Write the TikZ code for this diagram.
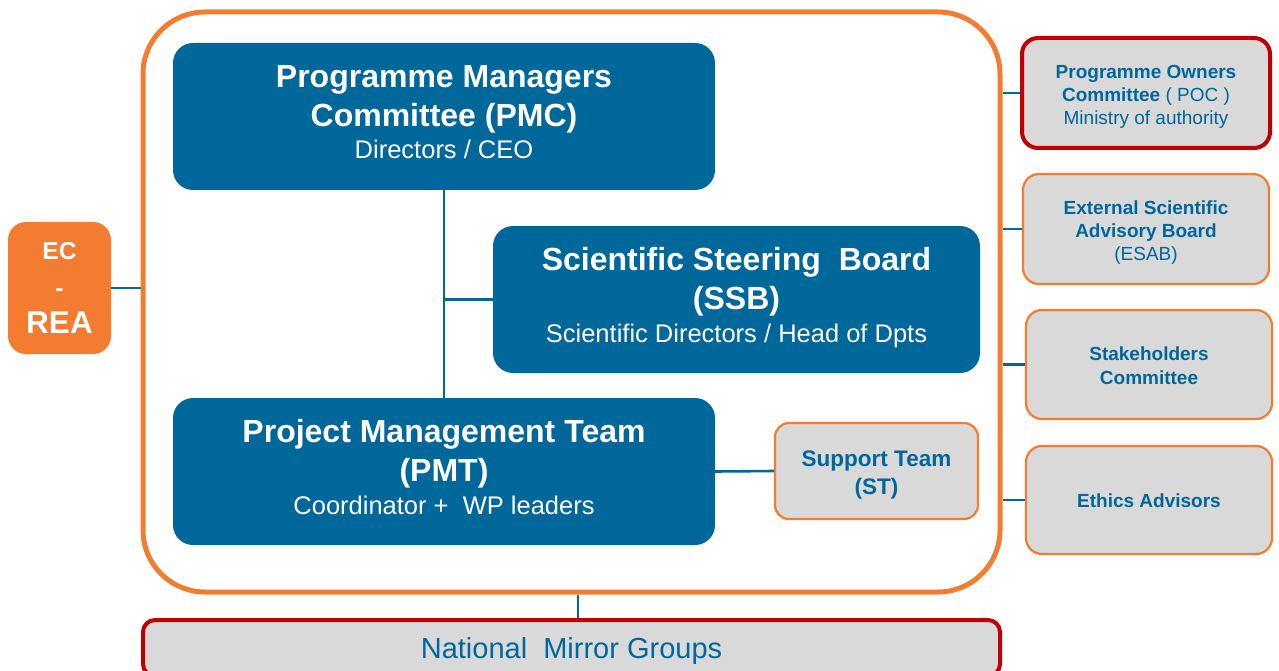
\documentclass[tikz,border=0pt]{standalone}
\usepackage{fontspec}
\setmainfont{Liberation Sans}
\definecolor{dblue}{RGB}{0,103,154}
\definecolor{orng}{RGB}{244,124,48}
\definecolor{lgray}{RGB}{217,217,217}
\definecolor{dred}{RGB}{192,0,0}
\newcommand{\subf}{\fontsize{25.5}{39}\selectfont\mdseries}
\newcommand{\lift}[1]{\rule{0pt}{#1pt}}
\begin{document}
\begin{tikzpicture}[x=1pt,y=-1pt,
  bluebox/.style={rectangle,rounded corners=20,fill=dblue,text=white,align=center,inner sep=0pt,
    font=\fontsize{32}{39}\selectfont\bfseries,text height=85pt,text depth=0pt},
  graybox/.style={rectangle,rounded corners=16,fill=lgray,draw=orng,line width=2.2pt,text=dblue,align=center,inner sep=0pt},
  redbox/.style={graybox,draw=dred,line width=4pt},
  conn/.style={draw=dblue,line width=2.6pt}
]
\useasboundingbox (0,0) rectangle (1279,671);
% main frame
\node[rectangle,draw=orng,line width=5pt,rounded corners=62,minimum width=857,minimum height=580] (frame) at (571.5,302) {};
% central boxes
\node[bluebox,minimum width=542,minimum height=147] (pmc) at (444,116.5)
  {Programme Managers\\Committee (PMC)\\[-7pt]\subf Directors / CEO};
\node[bluebox,minimum width=487,minimum height=147] (ssb) at (736.5,299.5)
  {Scientific Steering\ \ Board\\(SSB)\\[-6pt]\subf Scientific Directors / Head of Dpts};
\node[bluebox,minimum width=542,minimum height=147] (pmt) at (444,471.5)
  {Project Management Team\\(PMT)\\[-6pt]\subf Coordinator +\ \ WP leaders};
\node[graybox,minimum width=203,minimum height=96,rounded corners=14,font=\fontsize{22.5}{28}\selectfont\bfseries] (st) at (876.5,471)
  {\lift{24.5}Support Team\\(ST)};
% EC - REA
\node[rectangle,rounded corners=18,fill=orng,text=white,align=center,inner sep=0pt,minimum width=103,minimum height=132,font=\fontsize{24.5}{37}\selectfont\bfseries] (ecrea) at (59.5,288)
  {EC\\-\\\fontsize{31.5}{37}\selectfont REA};
% right boxes
\node[redbox,minimum width=248,minimum height=110,font=\fontsize{19}{23}\selectfont] (poc) at (1146,93)
  {\lift{20}\textbf{Programme Owners}\\\textbf{Committee} ( POC )\\Ministry of authority};
\node[graybox,minimum width=246,minimum height=110,font=\fontsize{19}{23}\selectfont] (esab) at (1146,229)
  {\lift{20}\textbf{External Scientific}\\\textbf{Advisory Board}\\(ESAB)};
\node[graybox,minimum width=246,minimum height=109,font=\fontsize{19}{24}\selectfont\bfseries] (stake) at (1149,364.5)
  {\lift{17}Stakeholders\\Committee};
\node[graybox,minimum width=246,minimum height=108,font=\fontsize{19}{24}\selectfont\bfseries] (ethics) at (1149,500)
  {\lift{16}Ethics Advisors};
% bottom
\node[redbox,rounded corners=12,minimum width=857,minimum height=56,font=\fontsize{29}{30}\selectfont] (nmg) at (571.5,648)
  {\lift{27}National\ \ Mirror Groups};
% connectors
\draw[conn] (pmc.south) -- (pmt.north);
\draw[conn] (ssb.west) -- (ssb.west -| pmc.south);
\draw[conn] (pmt.east) -- (st.west);
\draw[conn] (ecrea.east) -- (ecrea.east -| frame.west);
\draw[conn] (poc.west) -- (poc.west -| frame.east);
\draw[conn] (esab.west) -- (esab.west -| frame.east);
\draw[conn] (stake.west) -- (stake.west -| frame.east);
\draw[conn] (ethics.west) -- (ethics.west -| frame.east);
\draw[conn,line width=2pt] ([xshift=6.5]frame.south) -- ([xshift=6.5]nmg.north);
\end{tikzpicture}
\end{document}
